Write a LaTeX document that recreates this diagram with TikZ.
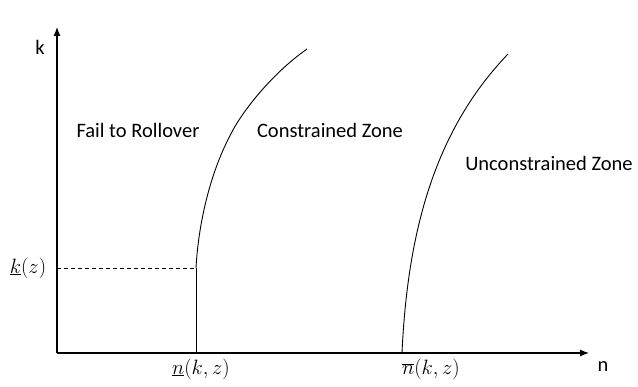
\documentclass[tikz,border=0pt]{standalone}
\usepackage{fontspec}
\setmainfont{Carlito}
\usetikzlibrary{arrows.meta}
\tikzset{
  axis/.style={line width=1.2pt,-{Latex[length=9pt,width=7pt]}},
  curve/.style={line width=0.9pt},
  lbl/.style={font=\fontsize{20.5}{24}\selectfont,inner sep=0pt},
  mlbl/.style={font=\fontsize{22}{26}\selectfont,inner sep=0pt}
}
\begin{document}
\begin{tikzpicture}[x=1pt,y=-1pt]
\useasboundingbox (0,0) rectangle (638,387);
\coordinate (O) at (57,353);
\coordinate (ytip) at (57,27);
\coordinate (xtip) at (589,353);
\draw[axis] (O) -- (ytip);
\draw[axis] (O) -- (xtip);
\node[lbl] (klab) at (40,47) {k};
\node[lbl] (nlab) at (603,367) {n};
% lower boundary
\coordinate (nb) at (196,353);
\coordinate (kp) at (196,268);
\coordinate (ky) at (57,268);
\coordinate (c1) at (233,130);
\coordinate (c1top) at (307,49);
\draw[curve] (nb) -- (kp);
\draw[line width=0.8pt,dash pattern=on 4pt off 3pt] (ky) -- (kp);
\draw[curve] (kp) .. controls (198,230) and (208,175) .. (c1)
                  .. controls (242,113) and (270,75) .. (c1top);
% upper boundary
\coordinate (u0) at (402,353);
\coordinate (u2) at (508,54);
\draw[curve] (u0) .. controls (408,220) and (440,125) .. (u2);
\node[mlbl] (klow) at (28,268) {$\underline{k}(z)$};
\node[mlbl] (nlow) at (201,369) {$\underline{n}(k,z)$};
\node[mlbl] (nup) at (431,369) {$\overline{n}(k,z)$};
\node[lbl] (fail) at (138,130) {Fail to Rollover};
\node[lbl] (cz) at (330,130) {Constrained Zone};
\node[lbl] (uz) at (549,163) {Unconstrained Zone};
\end{tikzpicture}
\end{document}
